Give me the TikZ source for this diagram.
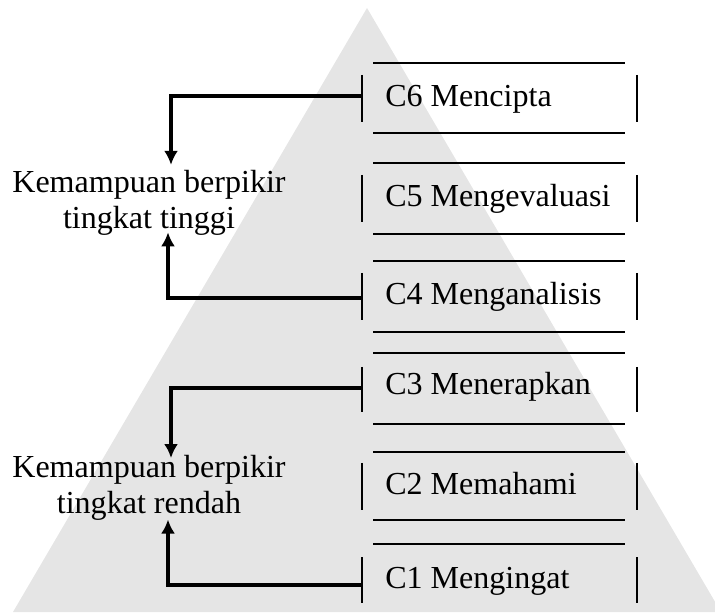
\documentclass[tikz,border=0pt]{standalone}
\usepackage{fontspec}
\setmainfont{Liberation Serif}
\usetikzlibrary{arrows.meta}

\begin{document}
\begin{tikzpicture}[
		font=\fontsize{22.8}{25.6}\selectfont,
		garis/.style={line width=1.4pt},
		pfeil/.style={-{Latex[length=10pt,width=10pt]}, line width=2.3pt},
		stufe/.style={anchor=base west, inner sep=0pt},
	]
		
		%Rahmen
		\clip (0,0) rectangle (17.875,15.3);
		
		%Pyramide im Hintergrund
		\fill[gray!20] (0.325,0) -- (9.175,15.1) -- (18.025,0) -- cycle;
		
		%C6
		\begin{scope}[yshift=13.725cm]
			\draw[garis] (9.325,0) -- (15.625,0);
			\draw[garis] (9.325,-1.75) -- (15.625,-1.75);
			\draw[garis] (9.05,-0.3) -- (9.05,-1.475);
			\draw[garis] (15.925,-0.3) -- (15.925,-1.475);
			\node[stufe] (c6) at (9.625,-1.1) {C6 Mencipta};
			\coordinate (a6) at (9.05,-0.825);
		\end{scope}
		
		%C5
		\begin{scope}[yshift=11.225cm]
			\draw[garis] (9.325,0) -- (15.625,0);
			\draw[garis] (9.325,-1.775) -- (15.625,-1.775);
			\draw[garis] (9.05,-0.3) -- (9.05,-1.475);
			\draw[garis] (15.925,-0.3) -- (15.925,-1.475);
			\node[stufe] (c5) at (9.625,-1.1) {C5 Mengevaluasi};
		\end{scope}
		
		%C4
		\begin{scope}[yshift=8.775cm]
			\draw[garis] (9.325,0) -- (15.625,0);
			\draw[garis] (9.325,-1.775) -- (15.625,-1.775);
			\draw[garis] (9.05,-0.3) -- (9.05,-1.475);
			\draw[garis] (15.925,-0.3) -- (15.925,-1.475);
			\node[stufe] (c4) at (9.625,-1.1) {C4 Menganalisis};
			\coordinate (a4) at (9.05,-0.925);
		\end{scope}
		
		%C3
		\begin{scope}[yshift=6.475cm]
			\draw[garis] (9.325,0) -- (15.625,0);
			\draw[garis] (9.325,-1.775) -- (15.625,-1.775);
			\draw[garis] (9.05,-0.35) -- (9.05,-1.475);
			\draw[garis] (15.925,-0.35) -- (15.925,-1.475);
			\node[stufe] (c3) at (9.625,-1.05) {C3 Menerapkan};
			\coordinate (a3) at (9.05,-0.875);
		\end{scope}
		
		%C2
		\begin{scope}[yshift=4cm]
			\draw[garis] (9.325,0) -- (15.625,0);
			\draw[garis] (9.325,-1.7) -- (15.625,-1.7);
			\draw[garis] (9.05,-0.275) -- (9.05,-1.45);
			\draw[garis] (15.925,-0.275) -- (15.925,-1.45);
			\node[stufe] (c2) at (9.625,-1.075) {C2 Memahami};
		\end{scope}
		
		%C1
		\begin{scope}[yshift=1.7cm]
			\draw[garis] (9.325,0) -- (15.625,0);
			\draw[garis] (9.05,-0.325) -- (9.05,-1.475);
			\draw[garis] (15.925,-0.325) -- (15.925,-1.475);
			\node[stufe] (c1) at (9.625,-1.1) {C1 Mengingat};
			\coordinate (a1) at (9.05,-1.025);
		\end{scope}
		
		%Beschriftung links
		\node[align=center] (hots) at (3.725,10.24) {Kemampuan berpikir\\tingkat tinggi};
		\node[align=center] (lots) at (3.725,3.11) {Kemampuan berpikir\\tingkat rendah};
		
		%Pfeile
		\draw[pfeil] (a6) -| ([xshift=0.55cm]hots.north);
		\draw[pfeil] (a4) -| ([xshift=0.475cm,yshift=0.19cm]hots.south);
		\draw[pfeil] (a3) -| ([xshift=0.55cm,yshift=-0.2cm]lots.north);
		\draw[pfeil] (a1) -| ([xshift=0.475cm,yshift=0.14cm]lots.south);
		
	\end{tikzpicture}
\end{document}
